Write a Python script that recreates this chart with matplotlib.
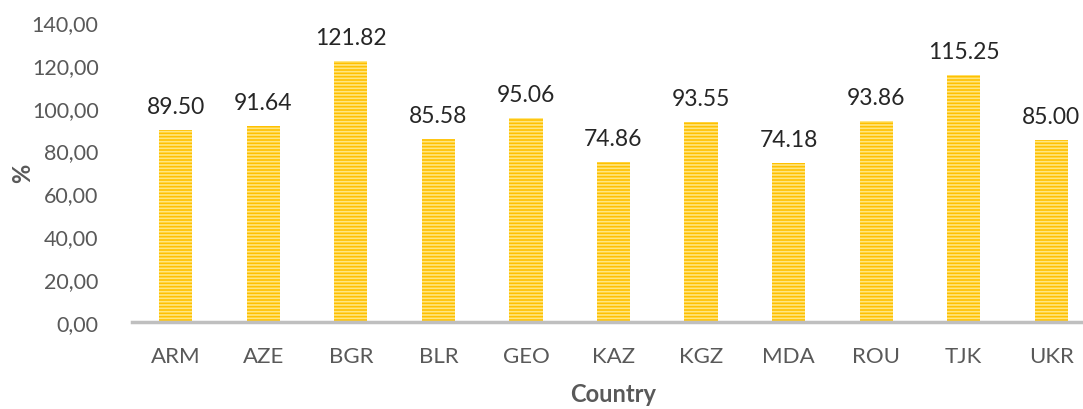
import matplotlib.pyplot as plt
from matplotlib.ticker import FuncFormatter

countries = ["ARM", "AZE", "BGR", "BLR", "GEO", "KAZ", "KGZ", "MDA", "ROU", "TJK", "UKR"]
values = [89.50, 91.64, 121.82, 85.58, 95.06, 74.86, 93.55, 74.18, 93.86, 115.25, 85.00]

plt.rcParams['font.family'] = ['Lato', 'DejaVu Sans']
plt.rcParams['hatch.linewidth'] = 1.2
plt.rcParams['hatch.color'] = '#FFE680'

fig = plt.figure(figsize=(10.83, 4.10), dpi=100)
ax = fig.add_axes([132 / 1083, 87 / 410, 963 / 1083, 300 / 410])

bars = ax.bar(range(len(countries)), values, width=0.38, color='#FFC000',
              hatch='-----', edgecolor='#FFE680', linewidth=0)

for i, v in enumerate(values):
    ax.text(i, v + 6, f"{v:.2f}", ha='center', va='bottom', fontsize=16.5, color='#262626')

ax.set_ylim(0, 140)
ax.set_xlim(-0.5, len(countries) - 0.5)
ax.set_yticks(range(0, 141, 20))
ax.yaxis.set_major_formatter(FuncFormatter(lambda y, _: f"{y:.2f}".replace('.', ',')))
ax.set_xticks(range(len(countries)))
ax.set_xticklabels(countries)
ax.tick_params(axis='both', length=0, colors='#595959')
ax.tick_params(axis='x', pad=17, labelsize=16)
ax.tick_params(axis='y', pad=24, labelsize=15.5)

for s in ['top', 'right', 'left']:
    ax.spines[s].set_visible(False)
ax.spines['bottom'].set_color('#BFBFBF')
ax.spines['bottom'].set_linewidth(2.5)

ax.set_xlabel("Country", fontsize=17, fontweight='bold', color='#595959', labelpad=12)
ax.set_ylabel("%", fontsize=17, fontweight='bold', color='#595959', labelpad=-2)

fig.savefig("out.png", dpi=100)
